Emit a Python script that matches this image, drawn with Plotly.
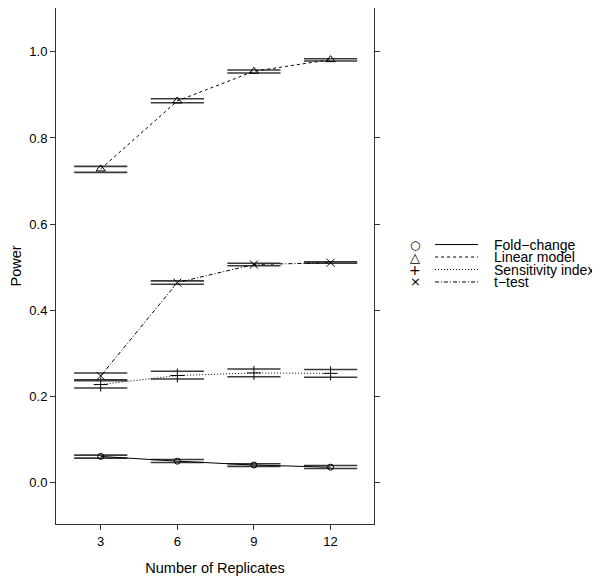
import plotly.graph_objects as go

replicates = [3, 6, 9, 12]

methods = ["Fold\u2212change", "Linear model", "Sensitivity index", "t\u2212test"]

power = {
    "Fold\u2212change": [0.060, 0.049, 0.040, 0.035],
    "Linear model": [0.728, 0.886, 0.955, 0.982],
    "Sensitivity index": [0.227, 0.248, 0.254, 0.253],
    "t\u2212test": [0.247, 0.464, 0.506, 0.510],
}
upper = {
    "Fold\u2212change": [0.063, 0.053, 0.043, 0.039],
    "Linear model": [0.734, 0.891, 0.958, 0.984],
    "Sensitivity index": [0.236, 0.258, 0.263, 0.262],
    "t\u2212test": [0.254, 0.468, 0.509, 0.512],
}
lower = {
    "Fold\u2212change": [0.056, 0.046, 0.037, 0.032],
    "Linear model": [0.720, 0.882, 0.951, 0.979],
    "Sensitivity index": [0.219, 0.240, 0.245, 0.244],
    "t\u2212test": [0.238, 0.460, 0.503, 0.509],
}

symbols = {
    "Fold\u2212change": ("circle-open", 6),
    "Linear model": ("triangle-up-open", 8),
    "Sensitivity index": ("cross-thin-open", 10),
    "t\u2212test": ("x-thin-open", 8),
}
dashes = {
    "Fold\u2212change": "solid",
    "Linear model": "3px,3px",
    "Sensitivity index": "1px,2px",
    "t\u2212test": "4px,2px,1px,2px",
}
legend_glyphs = ["\u25cb", "\u25b3", "+", "\u00d7"]
glyph_sizes = [12, 13, 14, 13]

fig = go.Figure()

for m in methods:
    # interval ends drawn as short horizontal bars
    for bound in (upper[m], lower[m]):
        fig.add_scatter(
            x=replicates, y=bound, mode="markers", showlegend=False,
            marker=dict(symbol="line-ew-open", size=38, color="#3a3a3a",
                        line=dict(color="#3a3a3a", width=1.6)),
            hoverinfo="skip",
        )
    sym, size = symbols[m]
    fig.add_scatter(
        x=replicates, y=power[m], mode="lines+markers", name=m,
        showlegend=False,
        line=dict(color="black", width=1, dash=dashes[m]),
        marker=dict(symbol=sym, size=size, color="black",
                    line=dict(color="black", width=1)),
    )

axis_common = dict(
    showline=True, mirror="ticks", linecolor="#333", linewidth=1,
    ticks="outside", ticklen=5, tickcolor="#333", showgrid=False,
    zeroline=False, tickfont=dict(size=13, color="black"), automargin=False,
)

fig.update_xaxes(
    range=[1.25, 13.7], tickvals=replicates,
    title=dict(text="Number of Replicates", font=dict(size=14.5, color="black")),
    **axis_common,
)
fig.update_yaxes(
    range=[-0.097, 1.102], tickvals=[0.0, 0.2, 0.4, 0.6, 0.8, 1.0],
    tickformat=".1f",
    title=dict(text="Power", font=dict(size=14.5, color="black")),
    **axis_common,
)

# hand-built key to the right of the panel
row_y = [0.5416, 0.5174, 0.4932, 0.469]
for glyph, gs, m, yy in zip(legend_glyphs, glyph_sizes, methods, row_y):
    fig.add_annotation(x=1.129, y=yy, xref="paper", yref="paper", text=glyph,
                       showarrow=False, xanchor="center", yanchor="middle",
                       borderpad=0,
                       font=dict(family="DejaVu Sans", size=gs, color="black"))
    fig.add_shape(type="line", xref="paper", yref="paper",
                  x0=1.192, x1=1.327, y0=yy, y1=yy,
                  line=dict(color="black", width=1, dash=dashes[m]))
    fig.add_annotation(x=1.375, y=yy, xref="paper", yref="paper", text=m,
                       showarrow=False, xanchor="left", yanchor="middle",
                       borderpad=0, font=dict(size=14, color="black"))

# the page body keeps its 8px margin, so the figure is 8px smaller
fig.update_layout(
    width=592, height=568,
    margin=dict(l=48, r=226, t=0, b=52),
    plot_bgcolor="white", paper_bgcolor="white",
    font=dict(family="Liberation Sans, Arial, sans-serif", color="black"),
    showlegend=False,
)

fig.write_html("out.html")
